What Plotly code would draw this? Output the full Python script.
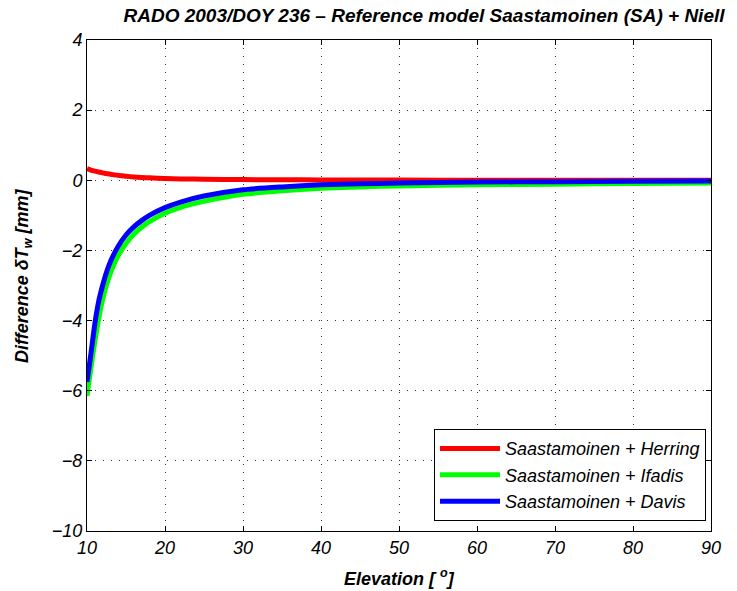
import plotly.graph_objects as go

# Elevation angles (degrees) and wet delay differences (mm) w.r.t. Saastamoinen + Niell
elevation = [10, 10.5, 11, 11.5, 12, 12.5, 13, 14, 15, 16, 17, 18, 20, 22, 25,
             30, 35, 40, 45, 50, 60, 70, 80, 90]
herring = [0.33, 0.29, 0.26, 0.235, 0.21, 0.19, 0.17, 0.14, 0.115, 0.095, 0.08,
           0.07, 0.05, 0.04, 0.03, 0.02, 0.015, 0.01, 0.007, 0.005, 0.003, 0.002,
           0.001, 0.0]
ifadis = [-6.15, -5.35, -4.6, -3.95, -3.4, -2.98, -2.65, -2.15, -1.80, -1.54,
          -1.34, -1.18, -0.94, -0.77, -0.60, -0.40, -0.30, -0.23, -0.19, -0.16,
          -0.13, -0.11, -0.09, -0.08]
davis = [-5.75, -4.95, -4.1, -3.45, -3.0, -2.62, -2.32, -1.88, -1.56, -1.33,
         -1.15, -1.00, -0.78, -0.62, -0.45, -0.27, -0.19, -0.13, -0.10, -0.08,
         -0.05, -0.04, -0.03, -0.02]

x_ticks = [10, 20, 30, 40, 50, 60, 70, 80, 90]
y_ticks = [-10, -8, -6, -4, -2, 0, 2, 4]

FONT = "Liberation Sans, Arial, Helvetica, sans-serif"

series = [
    ("Saastamoinen + Herring", herring, "#ff0000"),
    ("Saastamoinen + Ifadis", ifadis, "#00ff00"),
    ("Saastamoinen + Davis", davis, "#0000ff"),
]

fig = go.Figure()
for name, values, color in series:
    fig.add_trace(go.Scatter(
        x=elevation, y=values, name=name, mode="lines",
        line=dict(color=color, width=5, shape="spline", smoothing=0.6),
    ))

axis_common = dict(
    showline=True, linecolor="black", linewidth=1, mirror="ticks",
    ticks="inside", ticklen=5, tickcolor="black",
    showgrid=True, gridcolor="#333333", griddash="1px,7px", gridwidth=1,
    zeroline=False,
    tickfont=dict(family=FONT, size=18, color="black", style="italic"),
)

fig.update_xaxes(range=[10, 90], tickvals=x_ticks, **axis_common)
fig.update_yaxes(range=[-10, 4], tickvals=y_ticks, **axis_common)

fig.update_layout(
    width=737, height=591,
    margin=dict(l=87, r=26, t=40, b=60),
    paper_bgcolor="white", plot_bgcolor="white",
    showlegend=True,
    title=dict(
        text="RADO 2003/DOY 236 – Reference model Saastamoinen (SA) + Niell",
        xref="container", yref="container", x=424 / 737, y=1 - 15 / 591,
        xanchor="center", yanchor="middle",
        font=dict(family=FONT, size=19, color="black", weight="bold", style="italic"),
    ),
    legend=dict(
        x=0.992, y=0.02, xanchor="right", yanchor="bottom",
        bgcolor="white", bordercolor="black", borderwidth=1,
        font=dict(family=FONT, size=18, color="black", style="italic"),
        itemwidth=60,
    ),
    annotations=[
        dict(text="Elevation [ <sup>o</sup>]", xref="paper", yref="paper",
             x=0.5, y=-46 / 491, xanchor="center", yanchor="middle",
             showarrow=False,
             font=dict(family=FONT, size=18, color="black", weight="bold", style="italic")),
        dict(text="Difference δT<sub>w</sub> [mm]", xref="paper", yref="paper",
             x=-64 / 624, y=(531 - 276) / 491, xanchor="center", yanchor="middle",
             textangle=-90, showarrow=False,
             font=dict(family=FONT, size=18, color="black", weight="bold", style="italic")),
    ],
)

fig.write_html("out.html")
